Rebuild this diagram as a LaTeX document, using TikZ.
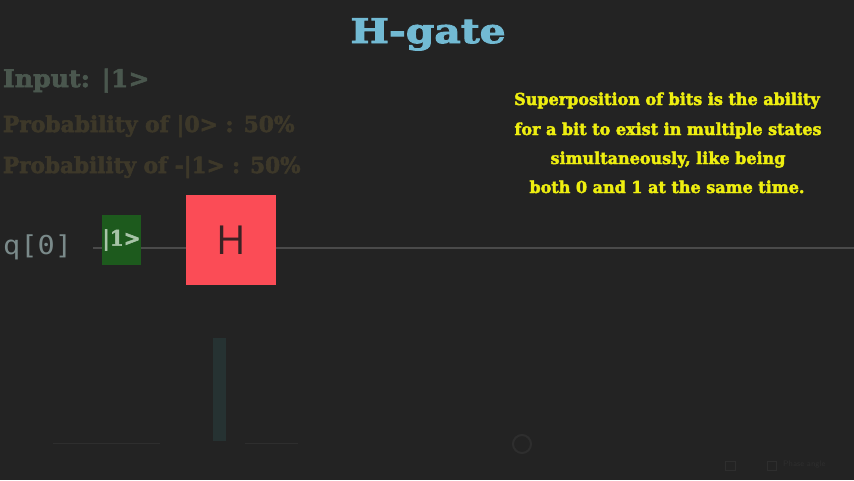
\documentclass[tikz,border=0pt]{standalone}
\usepackage{fontspec}
\setmainfont{DejaVu Serif}
\newfontfamily\slab{DejaVu Serif}[BoldFeatures={FakeBold=2.5}]
\newfontfamily\gatefont{Open Sans}
\newfontfamily\monof{DejaVu Sans Mono}
\definecolor{bgc}{HTML}{232323}
\definecolor{titlec}{HTML}{72BAD3}
\definecolor{inputc}{HTML}{4A574E}
\definecolor{probc}{HTML}{3D3829}
\definecolor{yel}{HTML}{EEEE10}
\definecolor{qc}{HTML}{7A8A8A}
\definecolor{wirec}{HTML}{4A4A4A}
\definecolor{greenb}{HTML}{1D5A1D}
\definecolor{ketc}{HTML}{A8C4A8}
\definecolor{redb}{HTML}{FB4C56}
\definecolor{hc}{HTML}{3A2224}
\definecolor{faint}{HTML}{2E2E2E}
\definecolor{faintbar}{HTML}{263232}
\begin{document}
\begin{tikzpicture}[x=1pt,y=-1pt,
  txt/.style={inner sep=0pt,outer sep=0pt,font=\slab\bfseries},
  gatebox/.style={inner sep=0pt,outer sep=0pt}]
\useasboundingbox[fill=bgc] (0,0) rectangle (854,480);
% title
\node[txt,anchor=base,text=titlec,font=\slab\bfseries\fontsize{34}{40}\selectfont] (title) at (428,43) {\scalebox{1.2}[1]{H-gate}};
% left texts
\node[txt,anchor=base west,text=inputc,font=\slab\bfseries\fontsize{24}{28}\selectfont] (inp) at (3,87) {\scalebox{1.05}[1]{Input: |1>}};
\node[txt,anchor=base west,text=probc,font=\slab\bfseries\fontsize{22}{26}\selectfont] (p0) at (3,132) {\scalebox{0.99}[1]{Probability of |0> : 50\%}};
\node[txt,anchor=base west,text=probc,font=\slab\bfseries\fontsize{22}{26}\selectfont] (p1) at (3,173) {\scalebox{0.98}[1]{Probability of -|1> : 50\%}};
% explanation
\node[txt,anchor=base,text=yel,font=\slab\bfseries\fontsize{16.5}{20}\selectfont] (e1) at (667,105) {\scalebox{0.97}[1]{Superposition of bits is the ability}};
\node[txt,anchor=base,text=yel,font=\slab\bfseries\fontsize{16.5}{20}\selectfont] (e2) at (668,135) {\scalebox{0.97}[1]{for a bit to exist in multiple states}};
\node[txt,anchor=base,text=yel,font=\slab\bfseries\fontsize{16.5}{20}\selectfont] (e3) at (668,164) {\scalebox{0.97}[1]{simultaneously, like being}};
\node[txt,anchor=base,text=yel,font=\slab\bfseries\fontsize{16.5}{20}\selectfont] (e4) at (667,193) {\scalebox{0.97}[1]{both 0 and 1 at the same time.}};
% circuit
\node[anchor=west,inner sep=0pt,text=qc,font=\monof\fontsize{26}{30}\selectfont] (q) at (3,247) {\scalebox{1.1}[1]{q[0]}};
\coordinate (wstart) at (93,248);
\coordinate (wend) at (854,248);
\draw[wirec,line width=2pt] (wstart) -- (wend);
\node[gatebox,fill=greenb,minimum width=39pt,minimum height=50pt,anchor=north west] (ket) at (102,215) {};
\node[txt,text=ketc,font=\slab\bfseries\fontsize{21}{24}\selectfont] at (ket.center) {\scalebox{0.95}[1]{|1>}};
\node[gatebox,fill=redb,minimum width=90pt,minimum height=90pt,anchor=north west] (hgate) at (186,195) {};
\node[inner sep=0pt,text=hc,font=\gatefont\fontsize{40}{44}\selectfont] at (hgate.center) {H};
% faint bottom elements
\fill[faintbar] (213,338) rectangle (226,441);
\draw[faint,line width=1pt] (53,443) -- (160,443);
\draw[faint,line width=1pt] (245,443) -- (298,443);
\draw[faint,line width=2pt] (522,444) circle (9);
\draw[faint,line width=1pt] (725,461) rectangle (735,470);
\draw[faint,line width=1pt] (767,461) rectangle (776,470);
\node[anchor=west,inner sep=0pt,text=faint,font=\sffamily\fontsize{8}{10}\selectfont] (ph) at (783,465) {Phase angle};
\end{tikzpicture}
\end{document}
